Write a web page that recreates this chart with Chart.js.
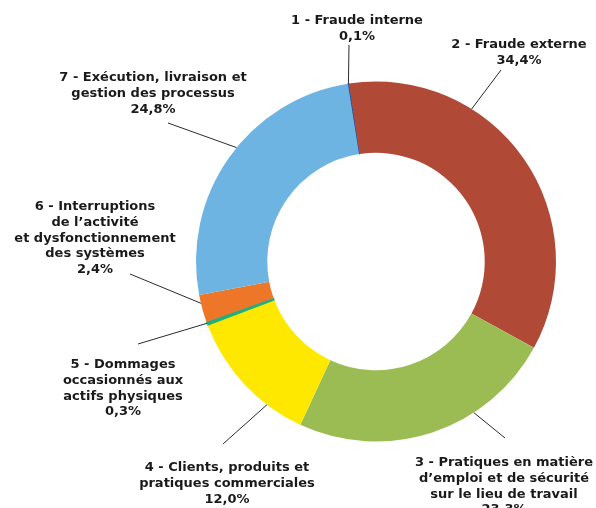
<!DOCTYPE html>
<html>
<head>
<meta charset="utf-8">
<script src="https://cdn.jsdelivr.net/npm/chart.js@4"></script>
<style>
  html, body { margin: 0; padding: 0; background: #fff; }
  #wrap { width: 596px; height: 508px; position: relative; }
</style>
</head>
<body>
<div id="wrap"><canvas id="riskChart" width="596" height="508"></canvas></div>
<script>
// Data
const categories = [
  ["1 - Fraude interne"],
  ["2 - Fraude externe"],
  ["3 - Pratiques en matière", "d\u2019emploi et de sécurité", "sur le lieu de travail"],
  ["4 - Clients, produits et", "pratiques commerciales"],
  ["5 - Dommages", "occasionnés aux", "actifs physiques"],
  ["6 - Interruptions", "de l\u2019activité", "et dysfonctionnement", "des systèmes"],
  ["7 - Exécution, livraison et", "gestion des processus"],
];
const values = [0.1, 34.4, 23.3, 12.0, 0.3, 2.4, 24.8];
const colors = ["#2b4f9e", "#b04a36", "#9bbb53", "#ffe800", "#1fae7c", "#ee7628", "#6db4e3"];

// Label layout: text centre x, first line y, leader start, anchor position inside the slice
const labelLayout = [
  { x: 357, y: 21, lx: 349, ly: 45, frac: 0.5 },
  { x: 519, y: 45, lx: 501, ly: 70, frac: 0.32 },
  { x: 504, y: 463, lx: 505, ly: 438, frac: 0.33 },
  { x: 227, y: 468, lx: 223, ly: 444, frac: 0.28 },
  { x: 123, y: 365, lx: 138, ly: 344, frac: 0.6 },
  { x: 95, y: 207, lx: 130, ly: 274, frac: 0.7 },
  { x: 153, y: 78, lx: 168, ly: 123, frac: 0.545 },
];

function formatPct(v) {
  return v.toFixed(1).replace(".", ",") + "%";
}

const calloutPlugin = {
  id: "callouts",
  afterDatasetsDraw(chart) {
    const ctx = chart.ctx;
    const arcs = chart.getDatasetMeta(0).data;
    ctx.save();
    arcs.forEach((arc, i) => {
      const lay = labelLayout[i];
      const a = arc.startAngle + lay.frac * (arc.endAngle - arc.startAngle);
      const ex = arc.x + Math.cos(a) * arc.outerRadius;
      const ey = arc.y + Math.sin(a) * arc.outerRadius;
      ctx.strokeStyle = "#2a2a2a";
      ctx.lineWidth = 1;
      ctx.beginPath();
      ctx.moveTo(lay.lx, lay.ly);
      ctx.lineTo(ex, ey);
      ctx.stroke();

      const lines = [...categories[i], formatPct(values[i])];
      ctx.fillStyle = "#1a1a1a";
      ctx.font = "bold 13px 'DejaVu Sans', sans-serif";
      ctx.textAlign = "center";
      ctx.textBaseline = "middle";
      lines.forEach((t, k) => {
        ctx.fillText(t, lay.x, lay.y + k * 15.6);
      });
    });
    ctx.restore();
  },
};

const ctx = document.getElementById("riskChart").getContext("2d");
new Chart(ctx, {
  type: "doughnut",
  data: {
    labels: categories.map(c => c.join(" ")),
    datasets: [{
      data: values,
      backgroundColor: colors,
      borderColor: colors,
      borderWidth: [1, 0, 0, 0, 1, 0, 0],
    }],
  },
  options: {
    responsive: false,
    animation: false,
    cutout: "60.4%",
    rotation: -9,
    layout: {
      padding: { left: 195, right: 39, top: 81, bottom: 66 },
    },
    plugins: {
      legend: { display: false },
      tooltip: { enabled: false },
    },
  },
  plugins: [calloutPlugin],
});
</script>
</body>
</html>
